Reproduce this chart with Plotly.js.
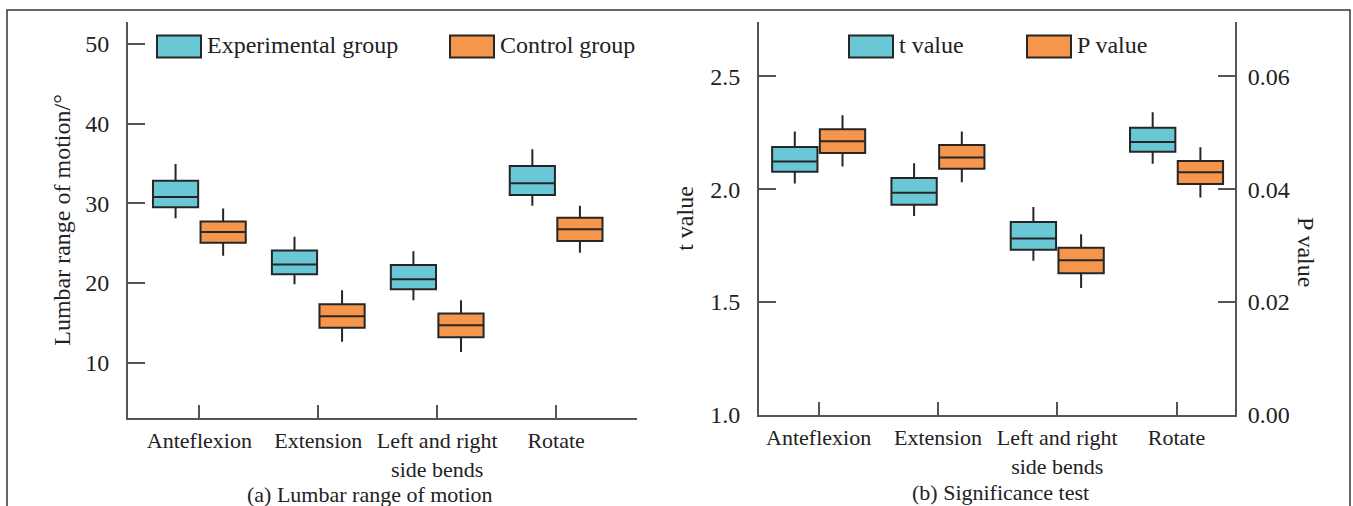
<!DOCTYPE html>
<html>
<head>
<meta charset="utf-8">
<script src="https://cdn.plot.ly/plotly-3.0.1.min.js"></script>
<style>html,body{margin:0;padding:0;background:#fff;}#chart{width:1353px;height:506px;}</style>
</head>
<body>
<div id="chart"></div>
<script>
// ---- data ----
const categories = ['Anteflexion', 'Extension', 'Left and right<br>side bends', 'Rotate'];

// (a) Lumbar range of motion (degrees)
const expUpper  = [34.95, 25.81, 24.00, 36.80];
const expQ3     = [32.85, 24.07, 22.26, 34.68];
const expMedian = [30.80, 22.33, 20.47, 32.53];
const expQ1     = [29.50, 21.09, 19.21, 31.06];
const expLower  = [28.14, 19.84, 17.84, 29.70];

const ctrlUpper  = [29.35, 19.09, 17.84, 29.70];
const ctrlQ3     = [27.72, 17.34, 16.18, 28.19];
const ctrlMedian = [26.40, 15.84, 14.71, 26.74];
const ctrlQ1     = [25.05, 14.38, 13.21, 25.28];
const ctrlLower  = [23.42, 12.63, 11.34, 23.80];

// (b) Significance test
const tUpper  = [2.255, 2.115, 1.921, 2.340];
const tQ3     = [2.187, 2.049, 1.854, 2.272];
const tMedian = [2.122, 1.984, 1.781, 2.209];
const tQ1     = [2.077, 1.931, 1.732, 2.166];
const tLower  = [2.025, 1.881, 1.683, 2.112];

const pUpper  = [0.0531, 0.0502, 0.0320, 0.0474];
const pQ3     = [0.0506, 0.0478, 0.0296, 0.0450];
const pMedian = [0.0485, 0.0456, 0.0274, 0.0430];
const pQ1     = [0.0464, 0.0436, 0.0251, 0.0409];
const pLower  = [0.0440, 0.0412, 0.0225, 0.0385];

const leftTicks = [10, 20, 30, 40, 50];
const tTicks = [1.0, 1.5, 2.0, 2.5];
const pTicks = [0.00, 0.02, 0.04, 0.06];

// ---- styles ----
const CYAN = '#69c7d6';
const ORANGE = '#f5964c';
const EDGE = '#262626';
const AXIS = '#555555';
const FONT = '"Liberation Serif", "Times New Roman", serif';
const TXT = '#222222';
const FS = 24;   // legend, y tick labels, axis titles
const FX = 22;   // category labels and panel captions

function boxTrace(name, x, up, q3, med, q1, lo, color, xa, ya, legend, ag, og) {
  return {
    type: 'box', name: name, x: x,
    upperfence: up, q3: q3, median: med, q1: q1, lowerfence: lo,
    fillcolor: color, line: {color: EDGE, width: 2},
    whiskerwidth: 0, boxpoints: false, hoverinfo: 'skip',
    xaxis: xa, yaxis: ya, legend: legend,
    alignmentgroup: ag, offsetgroup: og
  };
}

const traces = [
  boxTrace('Experimental group', categories, expUpper, expQ3, expMedian, expQ1, expLower, CYAN, 'x', 'y', 'legend', 'a', 'e'),
  boxTrace('Control group', categories, ctrlUpper, ctrlQ3, ctrlMedian, ctrlQ1, ctrlLower, ORANGE, 'x', 'y', 'legend', 'a', 'c'),
  boxTrace('t value', categories, tUpper, tQ3, tMedian, tQ1, tLower, CYAN, 'x2', 'y2', 'legend2', 'b', 't'),
  boxTrace('P value', categories, pUpper, pQ3, pMedian, pQ1, pLower, ORANGE, 'x2', 'y3', 'legend2', 'b', 'p')
];

const W = 1353, H = 506;
const px = v => v / W;
const py = v => 1 - v / H;

const commonX = {
  type: 'category', showline: true, linecolor: AXIS, linewidth: 2,
  ticks: 'inside', ticklen: 13, tickwidth: 2, tickcolor: AXIS,
  showgrid: false, zeroline: false, tickfont: {family: FONT, size: FX, color: TXT},
  fixedrange: true, ticklabelstandoff: 2
};
const commonY = {
  showline: true, linecolor: AXIS, linewidth: 2,
  ticks: 'inside', ticklen: 17, tickwidth: 2, tickcolor: AXIS,
  showgrid: false, zeroline: false, tickfont: {family: FONT, size: FS, color: TXT},
  fixedrange: true, ticklabelstandoff: 12
};

const layout = {
  width: W, height: H,
  margin: {l: 0, r: 0, t: 0, b: 0},
  paper_bgcolor: '#ffffff', plot_bgcolor: '#ffffff',
  font: {family: FONT, color: TXT, size: FS},
  boxmode: 'group', boxgap: 0.2, boxgroupgap: 0.05,
  showlegend: true,
  xaxis: Object.assign({}, commonX, {
    domain: [px(128), px(637)], anchor: 'y', range: [-0.6, 3.68]
  }),
  yaxis: Object.assign({}, commonY, {
    domain: [py(418), py(22)], anchor: 'x', range: [3.06, 52.76],
    tickvals: leftTicks,
    title: {text: 'Lumbar range of motion/°', font: {family: FONT, size: FS, color: TXT}, standoff: 8}
  }),
  xaxis2: Object.assign({}, commonX, {
    domain: [px(759), px(1235)], anchor: 'y2', range: [-0.5, 3.49]
  }),
  yaxis2: Object.assign({}, commonY, {
    domain: [py(415), py(22)], anchor: 'x2', range: [1.0, 2.74],
    tickvals: tTicks, tickformat: '.1f',
    title: {text: 't value', font: {family: FONT, size: FS, color: TXT}, standoff: 10}
  }),
  yaxis3: Object.assign({}, commonY, {
    overlaying: 'y2', anchor: 'x2', side: 'right', range: [0, 0.0696],
    tickvals: pTicks, tickformat: '.2f', ticklabelstandoff: 6
  }),
  legend: {
    orientation: 'h', x: px(137), y: py(22), xanchor: 'left', yanchor: 'top',
    font: {family: FONT, size: FS, color: TXT}, bgcolor: 'rgba(0,0,0,0)',
    itemwidth: 60, entrywidth: 218, entrywidthmode: 'pixels',
    itemclick: false, itemdoubleclick: false
  },
  legend2: {
    orientation: 'h', x: px(829), y: py(22), xanchor: 'left', yanchor: 'top',
    font: {family: FONT, size: FS, color: TXT}, bgcolor: 'rgba(0,0,0,0)',
    itemwidth: 60, entrywidth: 103, entrywidthmode: 'pixels',
    itemclick: false, itemdoubleclick: false
  },
  shapes: [
    {type: 'rect', xref: 'paper', yref: 'paper', x0: px(7), x1: px(1350), y0: -0.05, y1: py(10),
     line: {color: '#333333', width: 1.5}, fillcolor: 'rgba(0,0,0,0)'}
  ],
  annotations: [
    {text: '(a) Lumbar range of motion', xref: 'paper', yref: 'paper', x: px(370), y: py(494),
     showarrow: false, font: {family: FONT, size: FX, color: TXT}, xanchor: 'center', yanchor: 'middle'},
    {text: '(b) Significance test', xref: 'paper', yref: 'paper', x: px(1000), y: py(492),
     showarrow: false, font: {family: FONT, size: FX, color: TXT}, xanchor: 'center', yanchor: 'middle'},
    {text: 'P value', xref: 'paper', yref: 'paper', x: px(1306), y: py(252), textangle: 90,
     showarrow: false, font: {family: FONT, size: FS, color: TXT}, xanchor: 'center', yanchor: 'middle'}
  ]
};

// Enlarge legend swatches to the wide rectangles of the reference (44 x 22 px),
// placed just left of each legend label. Idempotent, re-run after every redraw.
function fixLegend(gd) {
  gd.querySelectorAll('.scrollbox').forEach(function (s) { s.removeAttribute('clip-path'); });
  gd.querySelectorAll('g.traces').forEach(function (item) {
    try {
      var p = item.querySelector('path.legendbox') || item.querySelector('.legendpoints path') || item.querySelector('path');
      var label = item.querySelector('text.legendtext') || item.querySelector('text');
      if (!p || !label) return;
      p.removeAttribute('transform');
      var bb = p.getBBox();
      if (!bb.width || !bb.height) return;
      var r = p.getBoundingClientRect();
      var t = label.getBoundingClientRect();
      var wantCx = t.left - 6 - 22;
      var wantCy = t.top + t.height / 2 + 1;
      var dx = wantCx - (r.left + r.width / 2);
      var dy = wantCy - (r.top + r.height / 2);
      var cx = bb.x + bb.width / 2, cy = bb.y + bb.height / 2;
      var sx = 44 / bb.width, sy = 22 / bb.height;
      p.setAttribute('transform',
        'translate(' + (cx + dx) + ',' + (cy + dy) + ') scale(' + sx + ',' + sy + ') translate(' + (-cx) + ',' + (-cy) + ')');
      p.setAttribute('vector-effect', 'non-scaling-stroke');
      p.style.strokeWidth = '2px';
      p.style.stroke = EDGE;
    } catch (e) { /* leave the native swatch */ }
  });
}

const gdEl = document.getElementById('chart');
Plotly.newPlot(gdEl, traces, layout, {staticPlot: true, displayModeBar: false}).then(function (gd) {
  gd.on('plotly_afterplot', function () { fixLegend(gd); });
  fixLegend(gd);
  setTimeout(function () { fixLegend(gd); }, 60);
  setTimeout(function () { fixLegend(gd); }, 300);
});
</script>
</body>
</html>
